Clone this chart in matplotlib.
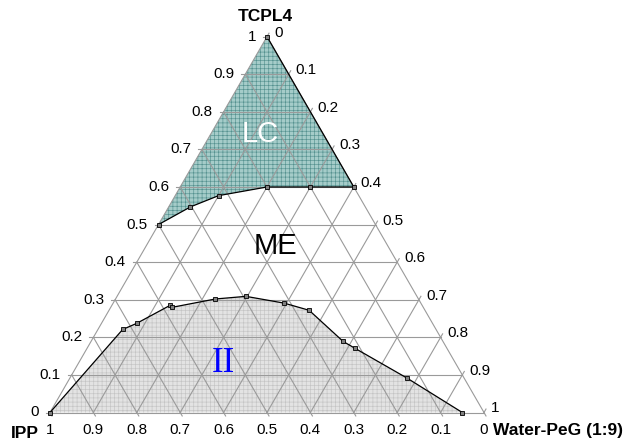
import numpy as np
import matplotlib
matplotlib.use('Agg')
from matplotlib import pyplot as plt
from matplotlib.patches import Polygon

plt.rcParams['font.family'] = ['Liberation Sans', 'DejaVu Sans']
plt.rcParams['hatch.linewidth'] = 0.45

# compositions (fractions): t = TCPL4, w = Water-PeG (1:9)
lc_t = [1.0, 0.6, 0.6, 0.6, 0.577, 0.547, 0.5]
lc_w = [0.0, 0.4, 0.3, 0.2, 0.10, 0.05, 0.0]

ii_t = [0.0, 0.221, 0.237, 0.285, 0.280, 0.302, 0.309, 0.291, 0.272, 0.189, 0.171, 0.092, 0.0]
ii_w = [0.0, 0.057, 0.081, 0.134, 0.142, 0.230, 0.297, 0.394, 0.461, 0.581, 0.617, 0.776, 0.95]

ticks = [0.0, 0.1, 0.2, 0.3, 0.4, 0.5, 0.6, 0.7, 0.8, 0.9, 1.0]
tick_labels = ['0', '0.1', '0.2', '0.3', '0.4', '0.5', '0.6', '0.7', '0.8', '0.9', '1']

S3 = np.sqrt(3) / 2
PX = 1 / 434.0   # one pixel in data units


def xy(t, w):
    t = np.asarray(t, dtype=float)
    w = np.asarray(w, dtype=float)
    return w + t / 2, t * S3


fig = plt.figure(figsize=(6.26, 4.41), dpi=100)
ax = fig.add_axes([0, 0, 1, 1])
ax.set_xlim(-50 * PX, 576 * PX)
ax.set_ylim(-28.5 * PX, 412.5 * PX)
ax.axis('off')

# filled regions
x, y = xy(lc_t, lc_w)
ax.add_patch(Polygon(np.column_stack([x, y]), closed=True, facecolor='#a5ccc9',
                     edgecolor='#55918f', hatch='++++', lw=0, zorder=1))
x, y = xy(ii_t, ii_w)
ax.add_patch(Polygon(np.column_stack([x, y]), closed=True, facecolor='#e3e3e3',
                     edgecolor='#c4c4c4', hatch='++++', lw=0, zorder=1))

# grid lines in the three directions
gc = '#9a9a9a'
for v in ticks:
    # constant TCPL4
    a, b = xy([v, v], [0, 1 - v])
    ax.plot(a, b, color=gc, lw=0.8, zorder=2)
    # constant Water-PeG
    a, b = xy([0, 1 - v], [v, v])
    ax.plot(a, b, color=gc, lw=0.8, zorder=2)
    # constant IPP
    a, b = xy([0, 1 - v], [1 - v, 0])
    ax.plot(a, b, color=gc, lw=0.8, zorder=2)

# ticks and labels
L = 4 * PX
for v, lab in zip(ticks, tick_labels):
    # left axis (TCPL4)
    a, b = xy(v, 0)
    ax.plot([a - L, a], [b, b], color=gc, lw=0.8)
    ax.text(a - 11 * PX, b, lab, ha='right', va='center', fontsize=11)
    # right axis (Water-PeG)
    a, b = xy(1 - v, v)
    ax.plot([a, a + L * 0.5], [b, b + L * S3], color=gc, lw=0.8)
    ax.text(a + 7 * PX, b + 4 * PX, lab, ha='left', va='center', fontsize=11)
    # bottom axis (IPP)
    a, b = xy(0, 1 - v)
    ax.plot([a, a + L * 0.5], [b, b - L * S3], color=gc, lw=0.8)
    ax.text(a, b - 18 * PX, lab, ha='center', va='center', fontsize=11)

# phase boundaries
x, y = xy(lc_t, lc_w)
ax.plot(x, y, color='k', lw=0.9, marker='s', ms=3.5, mfc='#808080', mec='k', mew=0.6, zorder=4)
x, y = xy(ii_t, ii_w)
ax.plot(x, y, color='k', lw=0.9, marker='s', ms=3.5, mfc='#808080', mec='k', mew=0.6, zorder=4)

# corner titles
ax.text(215 * PX, 396 * PX, 'TCPL4', ha='center', va='center', fontsize=12.5, fontweight='bold')
ax.text(-25 * PX, -21 * PX, 'IPP', ha='center', va='center', fontsize=12.5, fontweight='bold')
ax.text(443 * PX, -18 * PX, 'Water-PeG (1:9)', ha='left', va='center', fontsize=12.5, fontweight='bold')

# region labels
ax.text(210 * PX, 279 * PX, 'LC', ha='center', va='center', fontsize=21, color='white')
ax.text(225 * PX, 166 * PX, 'ME', ha='center', va='center', fontsize=21, color='black')
ax.text(173 * PX, 49 * PX, 'II', ha='center', va='center', fontsize=25, color='#0000ff',
        family='Liberation Serif')

fig.savefig('out.png', dpi=100)
